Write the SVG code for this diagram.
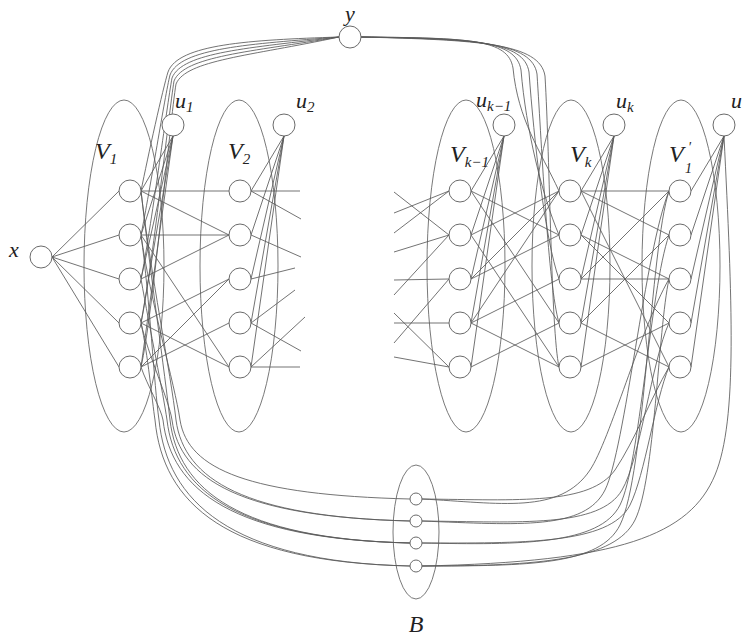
<svg xmlns="http://www.w3.org/2000/svg" width="743" height="639" viewBox="0 0 743 639">
<style>
.set{fill:none;stroke:#6a6a6a;stroke-width:0.9}
.e{fill:none;stroke:#5a5a5a;stroke-width:0.85}
.n{fill:#fff;stroke:#6a6a6a;stroke-width:1}
.t{font-family:"Liberation Serif","DejaVu Serif",serif;font-style:italic;fill:#222}
.L{font-size:24px}
.M{font-size:22px}
.s{font-size:15px}
.p{font-size:14px}
</style>
<rect width="743" height="639" fill="#fff"/>
<g id="sets">
<ellipse class="set" cx="124" cy="266" rx="40" ry="166"/>
<ellipse class="set" cx="239" cy="266" rx="39" ry="166"/>
<ellipse class="set" cx="466" cy="266" rx="39" ry="166"/>
<ellipse class="set" cx="571" cy="266" rx="39" ry="166"/>
<ellipse class="set" cx="681" cy="266" rx="39" ry="166"/>
<ellipse class="set" cx="416" cy="532" rx="23" ry="67"/>
</g>
<g id="edges">
<path class="e" d="M52,257L119,191M52,257L119,235M52,257L119,279M52,257L119,323M52,257L119,367"/>
<path class="e" d="M141,191L229,191M141,191L229,235M141,235L229,235M141,235L229,367M141,279L229,235M141,323L229,279M141,323L229,367M141,367L229,279M141,367L229,323"/>
<path class="e" d="M251,191L300,191M251,191L301,219M251,235L301,257M251,279L295,268M251,323L295,290M251,323L301,351M251,367L305,317M251,367L300,367"/>
<path class="e" d="M394,192L449,235M394,213L449,191M394,233L449,191M394,252L449,235M394,280L449,279M394,295L449,235M394,313L449,367M394,323L449,323M394,343L449,279M394,357L449,367"/>
<path class="e" d="M471,191L559,235M471,191L559,323M471,235L559,191M471,235L559,367M471,279L559,191M471,279L559,235M471,323L559,191M471,323L559,279M471,323L559,367M471,367L559,323"/>
<path class="e" d="M581,191L669,191M581,191L669,235M581,191L669,367M581,235L669,279M581,235L669,323M581,279L669,191M581,279L669,279M581,323L669,235M581,323L669,367M581,367L669,323"/>
<path class="e" d="M173,136L141,191M173,136L141,235M173,136L141,279M173,136L141,323M173,136L141,367"/>
<path class="e" d="M284,136L251,191M284,136L251,235M284,136L251,279M284,136L251,323M284,136L251,367"/>
<path class="e" d="M504,136L471,191M504,136L471,235M504,136L471,279M504,136L471,323M504,136L471,367"/>
<path class="e" d="M614,136L581,191M614,136L581,235M614,136L581,279M614,136L581,323M614,136L581,367"/>
<path class="e" d="M724,136L691,191M724,136L691,235M724,136L691,279M724,136L691,323M724,136L691,367"/>
<path class="e" d="M339,37C250,40 178,44 168,72C163,88 148,156 141,191"/>
<path class="e" d="M339,37C250,44 180,48 170,75C165,95 150,190 141,235"/>
<path class="e" d="M339,37C250,48 182,52 172,78C167,105 151,230 141,279"/>
<path class="e" d="M339,37C250,52 184,56 174,81C169,112 152,270 141,323"/>
<path class="e" d="M339,37C250,56 186,60 176,84C170,120 153,315 141,367"/>
<path class="e" d="M361,37C470,38 508,39 513,68C518,120 540,150 559,191"/>
<path class="e" d="M361,37C472,38 516,40 521,70C526,130 542,195 559,235"/>
<path class="e" d="M361,37C474,39 524,41 529,72C534,140 545,240 559,279"/>
<path class="e" d="M361,37C476,39 532,42 537,74C542,150 548,285 559,323"/>
<path class="e" d="M361,37C478,40 540,43 545,76C550,160 551,330 559,367"/>
<path class="e" d="M141,235C150,300 175,385 180,420C188,470 250,495 410,499"/>
<path class="e" d="M141,191C150,270 171,375 176,420C184,480 246,517 410,521"/>
<path class="e" d="M141,323C148,355 169,400 172,420C180,480 242,517 410,521"/>
<path class="e" d="M141,191C150,270 165,375 170,420C178,490 240,539 410,543"/>
<path class="e" d="M141,279C150,330 163,392 167,420C175,490 237,539 410,543"/>
<path class="e" d="M141,367C147,385 161,408 163,420C171,490 233,539 410,543"/>
<path class="e" d="M141,235C150,300 154,385 159,420C167,500 229,562 410,566"/>
<path class="e" d="M141,323C148,355 152,400 155,420C163,503 225,562 410,566"/>
<path class="e" d="M422,499C500,503 560,515 590,470C610,440 640,330 669,279"/>
<path class="e" d="M422,499C520,500 590,505 615,470C635,440 650,400 669,367"/>
<path class="e" d="M422,521C520,525 585,530 605,490C625,450 645,250 669,191"/>
<path class="e" d="M422,521C520,522 600,528 622,490C640,460 652,360 669,323"/>
<path class="e" d="M422,543C520,545 600,545 620,505C640,465 650,290 669,235"/>
<path class="e" d="M422,543C520,543 610,545 630,505C645,475 655,400 669,367"/>
<path class="e" d="M422,566C530,566 600,565 620,525C645,475 650,250 669,191"/>
<path class="e" d="M422,566C540,566 615,560 635,520C655,480 658,330 669,279"/>
<path class="e" d="M724,136C732,300 738,420 715,475C690,535 620,562 422,566"/>
</g>
<g id="node-x"><circle class="n" cx="41" cy="257" r="11"/><text class="t M" x="9" y="257">x</text></g>
<g id="node-y"><circle class="n" cx="350" cy="37" r="11"/><text class="t M" x="350" y="21" text-anchor="middle">y</text></g>
<g id="node-u1"><circle class="n" cx="173" cy="125" r="11"/><text class="t M" x="175" y="108">u<tspan class="s" dy="4">1</tspan></text></g>
<g id="node-u2"><circle class="n" cx="284" cy="125" r="11"/><text class="t M" x="296" y="108">u<tspan class="s" dy="4">2</tspan></text></g>
<g id="node-uk1"><circle class="n" cx="504" cy="125" r="11"/><text class="t M" x="476" y="107">u<tspan class="s" dy="4">k−1</tspan></text></g>
<g id="node-uk"><circle class="n" cx="614" cy="125" r="11"/><text class="t M" x="616" y="108">u<tspan class="s" dy="4">k</tspan></text></g>
<g id="node-u"><circle class="n" cx="724" cy="125" r="11"/><text class="t M" x="731" y="108">u</text></g>
<g id="set-V1"><text class="t L" x="95" y="159">V<tspan class="s" dy="5">1</tspan></text>
<circle class="n" cx="130" cy="191" r="11"/><circle class="n" cx="130" cy="235" r="11"/><circle class="n" cx="130" cy="279" r="11"/><circle class="n" cx="130" cy="323" r="11"/><circle class="n" cx="130" cy="367" r="11"/></g>
<g id="set-V2"><text class="t L" x="228" y="159">V<tspan class="s" dy="5">2</tspan></text>
<circle class="n" cx="240" cy="191" r="11"/><circle class="n" cx="240" cy="235" r="11"/><circle class="n" cx="240" cy="279" r="11"/><circle class="n" cx="240" cy="323" r="11"/><circle class="n" cx="240" cy="367" r="11"/></g>
<g id="set-Vk1"><text class="t L" x="450" y="162">V<tspan class="s" dy="5">k−1</tspan></text>
<circle class="n" cx="460" cy="191" r="11"/><circle class="n" cx="460" cy="235" r="11"/><circle class="n" cx="460" cy="279" r="11"/><circle class="n" cx="460" cy="323" r="11"/><circle class="n" cx="460" cy="367" r="11"/></g>
<g id="set-Vk"><text class="t L" x="570" y="162">V<tspan class="s" dy="5">k</tspan></text>
<circle class="n" cx="570" cy="191" r="11"/><circle class="n" cx="570" cy="235" r="11"/><circle class="n" cx="570" cy="279" r="11"/><circle class="n" cx="570" cy="323" r="11"/><circle class="n" cx="570" cy="367" r="11"/></g>
<g id="set-V1p"><text class="t L" x="669" y="162">V</text><text class="t p" x="688" y="152">′</text><text class="t p" x="685" y="173">1</text>
<circle class="n" cx="680" cy="191" r="11"/><circle class="n" cx="680" cy="235" r="11"/><circle class="n" cx="680" cy="279" r="11"/><circle class="n" cx="680" cy="323" r="11"/><circle class="n" cx="680" cy="367" r="11"/></g>
<g id="set-B"><text class="t L" x="416" y="632" text-anchor="middle">B</text>
<circle class="n" cx="416" cy="499" r="6"/><circle class="n" cx="416" cy="521" r="6"/><circle class="n" cx="416" cy="543" r="6"/><circle class="n" cx="416" cy="566" r="6"/></g>
</svg>
